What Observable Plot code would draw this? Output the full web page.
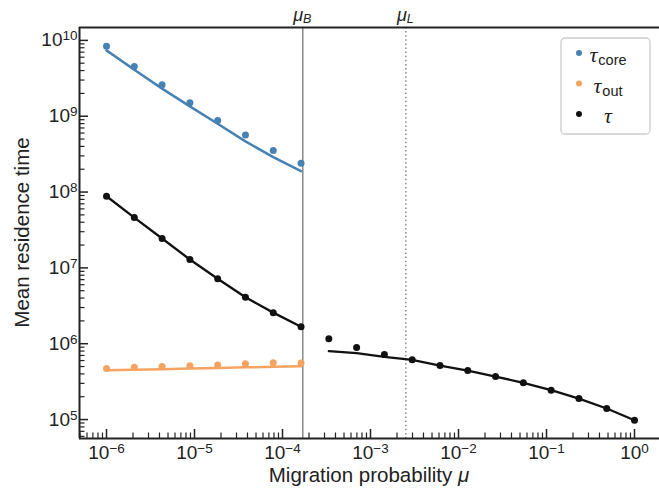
<!DOCTYPE html>
<html><head><meta charset="utf-8">
<script src="https://cdn.jsdelivr.net/npm/d3@7"></script>
<script src="https://cdn.jsdelivr.net/npm/@observablehq/plot@0.6"></script>
<style>body{margin:0;background:#fff}#chart{width:659px;height:489px}</style>
</head><body><div id="chart"></div>
<script>
// migration probabilities (simulation grid)
const muLeft  = [1e-6, 2.069e-6, 4.281e-6, 8.859e-6, 1.833e-5, 3.793e-5, 7.848e-5, 1.624e-4];
const muRight = [3.360e-4, 6.952e-4, 1.438e-3, 2.976e-3, 6.158e-3, 1.274e-2, 2.637e-2, 5.456e-2, 0.1129, 0.2336, 0.4833, 1];
const muB = 1.70e-4;
const muL = 2.52e-3;

// simulated points
const tauCorePts = [8.4e9, 4.54e9, 2.6e9, 1.51e9, 8.8e8, 5.65e8, 3.52e8, 2.4e8];
const tauOutPts  = [4.71e5, 4.90e5, 5.01e5, 5.13e5, 5.22e5, 5.44e5, 5.62e5, 5.56e5];
const tauLeftPts = [8.8e7, 4.6e7, 2.44e7, 1.29e7, 7.2e6, 4.1e6, 2.57e6, 1.67e6];
const tauRightPts = [1.16e6, 8.91e5, 7.19e5, 6.14e5, 5.15e5, 4.43e5, 3.69e5, 3.05e5, 2.44e5, 1.89e5, 1.40e5, 9.77e4];

// theory curves
const tauCoreLine = [7.38e9, 4.10e9, 2.31e9, 1.35e9, 7.96e8, 4.66e8, 2.89e8, 1.89e8];
const tauOutLine  = [4.47e5, 4.54e5, 4.62e5, 4.71e5, 4.79e5, 4.88e5, 4.95e5, 5.05e5];
const tauLeftLine = [8.8e7, 4.6e7, 2.44e7, 1.29e7, 7.2e6, 4.1e6, 2.57e6, 1.67e6];
const tauRightLine = [7.96e5, 7.50e5, 6.70e5, 6.14e5, 5.15e5, 4.43e5, 3.69e5, 3.05e5, 2.44e5, 1.89e5, 1.40e5, 9.77e4];

const xMajor = [1e-6, 1e-5, 1e-4, 1e-3, 1e-2, 1e-1, 1];
const yMajor = [1e5, 1e6, 1e7, 1e8, 1e9, 1e10];

const legendItems = [
  {sym: "τ", sub: "core", color: "#4682b4"},
  {sym: "τ", sub: "out", color: "#f4a460"},
  {sym: "τ", sub: "", color: "#111111"}
];

const BLUE = "#4682b4", ORANGE = "#f4a460", BLACK = "#111111", INK = "#222222";
const xDomain = [Math.pow(10, -6.307), Math.pow(10, 0.284)];
const yDomain = [Math.pow(10, 4.75), Math.pow(10, 10.17)];

function minorTicks(lo, hi, d0, d1) {
  const out = [];
  for (let d = d0; d <= d1; d++) for (let k = 2; k <= 9; k++) {
    const v = k * Math.pow(10, d);
    if (v > lo && v < hi) out.push(v);
  }
  return out;
}
const xMinor = minorTicks(xDomain[0], xDomain[1], -7, 0);
const yMinor = minorTicks(yDomain[0], yDomain[1], 4, 10);

const rows = (xs, ys) => xs.map((x, i) => ({x, y: ys[i]}));
const sup = d => { const e = Math.round(Math.log10(d)); return "10|" + (e < 0 ? "\u2212" + (-e) : String(e)); };

const plot = Plot.plot({
  width: 659, height: 489,
  marginLeft: 79, marginRight: 0, marginTop: 27, marginBottom: 51,
  x: {type: "log", domain: xDomain, label: null},
  y: {type: "log", domain: yDomain, label: null},
  style: {fontFamily: "'Liberation Sans', Arial, sans-serif", fontSize: "19px", color: INK, background: "white", overflow: "visible"},
  marks: [
    Plot.ruleX([muB], {stroke: "#888", strokeWidth: 1.5}),
    Plot.ruleX([muL], {stroke: "#888", strokeWidth: 1.5, strokeDasharray: "1.5,2.6"}),
    Plot.line(rows(muLeft, tauCoreLine), {x: "x", y: "y", stroke: BLUE, strokeWidth: 2.5}),
    Plot.line(rows(muLeft, tauOutLine), {x: "x", y: "y", stroke: ORANGE, strokeWidth: 2.5}),
    Plot.line(rows(muLeft, tauLeftLine), {x: "x", y: "y", stroke: BLACK, strokeWidth: 2.3}),
    Plot.line(rows(muRight, tauRightLine), {x: "x", y: "y", stroke: BLACK, strokeWidth: 2.3}),
    Plot.dot(rows(muLeft, tauCorePts), {x: "x", y: "y", r: 3.5, fill: BLUE}),
    Plot.dot(rows(muLeft, tauOutPts), {x: "x", y: "y", r: 3.5, fill: ORANGE}),
    Plot.dot(rows(muLeft, tauLeftPts), {x: "x", y: "y", r: 3.5, fill: BLACK}),
    Plot.dot(rows(muRight, tauRightPts), {x: "x", y: "y", r: 3.5, fill: BLACK}),
    // spines
    Plot.ruleY([yDomain[0]], {stroke: INK, strokeWidth: 2}),
    Plot.ruleY([yDomain[1]], {stroke: INK, strokeWidth: 2}),
    Plot.ruleX([xDomain[0]], {stroke: INK, strokeWidth: 2}),
    // ticks (inward)
    Plot.axisX(xMajor, {tickSize: -9, tickFormat: () => "", stroke: INK, strokeWidth: 1.5}),
    Plot.axisX(xMinor, {tickSize: -5.5, tickFormat: () => "", stroke: INK, strokeWidth: 1.2}),
    Plot.axisY(yMajor, {tickSize: -9, tickFormat: () => "", stroke: INK, strokeWidth: 1.5}),
    Plot.axisY(yMinor, {tickSize: -5.5, tickFormat: () => "", stroke: INK, strokeWidth: 1.2}),
    // tick labels
    Plot.axisX(xMajor, {tickSize: 0, tickPadding: 7, tickFormat: sup, fill: INK, fontSize: 19}),
    Plot.axisY(yMajor, {tickSize: 0, tickPadding: 2, tickFormat: sup, fill: INK, fontSize: 19})
  ]
});

const svg = d3.select(plot);
svg.selectAll("text").each(function() {
  const t = this.textContent;
  if (!t.includes("|")) return;
  const [b, e] = t.split("|");
  const sel = d3.select(this);
  sel.text(null);
  sel.append("tspan").text(b);
  sel.append("tspan").attr("dy", "-0.45em").attr("font-size", "13.5px").text(e);
});

const X = plot.scale("x"), Y = plot.scale("y");
const serifIt = "'Liberation Serif', 'DejaVu Serif', serif";

// axis titles
svg.append("text").attr("x", X.apply(Math.sqrt(xDomain[0] * xDomain[1]))).attr("y", 482)
  .attr("text-anchor", "middle").attr("font-size", "20.5px").attr("fill", INK)
  .call(t => { t.append("tspan").text("Migration probability "); t.append("tspan").attr("font-style", "italic").text("μ"); });
svg.append("text").attr("transform", `translate(29,${Y.apply(Math.sqrt(yDomain[0] * yDomain[1]))}) rotate(-90)`)
  .attr("text-anchor", "middle").attr("font-size", "20.5px").attr("fill", INK).text("Mean residence time");

// mu_B / mu_L labels
[[muB, "B"], [muL, "L"]].forEach(([v, s]) => {
  const t = svg.append("text").attr("x", X.apply(v)).attr("y", 20.5).attr("text-anchor", "middle")
    .attr("fill", INK).attr("font-style", "italic");
  t.append("tspan").attr("font-size", "18px").text("μ");
  t.append("tspan").attr("font-size", "12.5px").attr("dy", "2").text(s);
});

// legend
const lg = svg.append("g");
lg.append("rect").attr("x", 561).attr("y", 38).attr("width", 89).attr("height", 96).attr("rx", 4)
  .attr("fill", "white").attr("fill-opacity", 0.85).attr("stroke", "#cccccc").attr("stroke-width", 1.3);
legendItems.forEach((d, i) => {
  const cy = 53 + i * 30.5;
  lg.append("circle").attr("cx", 579).attr("cy", cy).attr("r", 3).attr("fill", d.color);
  const t = lg.append("text").attr("x", 608).attr("y", cy + 9).attr("fill", INK);
  t.append("tspan").attr("font-family", serifIt).attr("font-style", "italic").attr("font-size", "22px").text(d.sym);
  if (d.sub) t.append("tspan").attr("font-size", "14.5px").attr("dy", "3").attr("dx", "1").text(d.sub);
});

document.getElementById("chart").appendChild(plot);
</script>
</body></html>
